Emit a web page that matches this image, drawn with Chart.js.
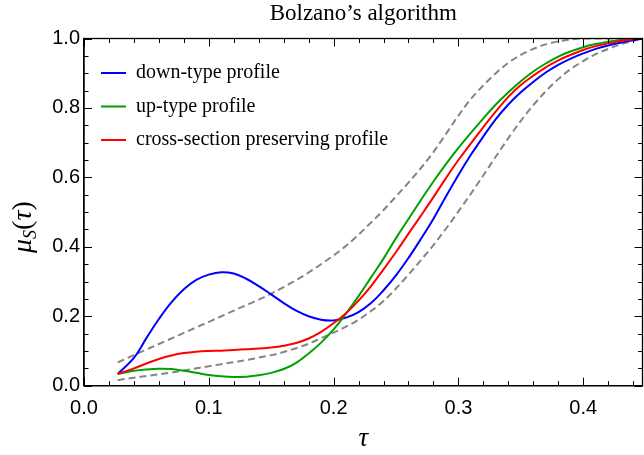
<!DOCTYPE html>
<html><head><meta charset="utf-8">
<script src="https://cdn.jsdelivr.net/npm/chart.js@4"></script>
<style>html,body{margin:0;padding:0;background:#fff}#wrap{width:644px;height:455px}</style>
</head><body><div id="wrap"><canvas id="c" width="644" height="455"></canvas></div>
<script>
const chartTitle = "Bolzano’s algorithm";
const seriesNames = ['down-type profile', 'up-type profile', 'cross-section preserving profile'];
const tau = [0.027,0.04,0.05,0.06,0.07,0.08,0.09,0.10,0.11,0.12,0.13,0.14,0.15,0.16,0.17,0.18,0.19,0.20,0.21,0.22,0.23,0.24,0.25,0.26,0.27,0.28,0.29,0.30,0.31,0.32,0.33,0.34,0.35,0.36,0.37,0.38,0.39,0.40,0.41,0.42,0.43,0.44,0.4475];
const downType = [0.034,0.080,0.137,0.192,0.240,0.278,0.305,0.320,0.327,0.323,0.308,0.287,0.263,0.238,0.216,0.200,0.190,0.188,0.196,0.212,0.238,0.275,0.318,0.368,0.423,0.481,0.545,0.607,0.665,0.718,0.768,0.810,0.845,0.875,0.902,0.924,0.942,0.957,0.970,0.980,0.988,0.995,1.000];
const upType = [0.034,0.043,0.047,0.049,0.048,0.043,0.037,0.031,0.027,0.025,0.026,0.030,0.037,0.048,0.066,0.093,0.124,0.162,0.208,0.258,0.312,0.366,0.425,0.480,0.535,0.588,0.638,0.685,0.728,0.770,0.810,0.845,0.877,0.905,0.928,0.948,0.963,0.975,0.984,0.991,0.996,0.999,1.000];
const crossSection = [0.034,0.050,0.064,0.077,0.087,0.094,0.098,0.100,0.101,0.103,0.105,0.107,0.110,0.115,0.123,0.136,0.155,0.180,0.209,0.245,0.287,0.335,0.385,0.438,0.490,0.543,0.598,0.650,0.698,0.745,0.790,0.832,0.866,0.893,0.917,0.937,0.953,0.967,0.978,0.986,0.993,0.998,1.000];
const bandUpper = [0.067,0.088,0.104,0.120,0.136,0.152,0.168,0.184,0.200,0.216,0.232,0.248,0.265,0.284,0.304,0.326,0.350,0.375,0.403,0.435,0.470,0.506,0.545,0.585,0.627,0.673,0.725,0.778,0.826,0.865,0.900,0.930,0.953,0.970,0.983,0.992,0.997,1.000,1.000,1.000,1.000,1.000,1.000];
const bandLower = [0.016,0.023,0.028,0.033,0.038,0.044,0.050,0.056,0.062,0.068,0.074,0.081,0.088,0.097,0.108,0.121,0.137,0.153,0.170,0.190,0.215,0.244,0.280,0.320,0.362,0.405,0.452,0.502,0.553,0.606,0.660,0.713,0.763,0.808,0.848,0.883,0.912,0.935,0.955,0.970,0.983,0.993,1.000];
const xTickLabels = ['0.0','0.1','0.2','0.3','0.4'];
const yTickLabels = ['0.0','0.2','0.4','0.6','0.8','1.0'];
const xRange = [0, 0.4475];
const yRange = [0, 1];
const xMinorStep = 0.02, yMinorStep = 0.05;

const pts = ys => tau.map((x, i) => ({x, y: ys[i]}));

const legendPlace = {
  id: 'legendPlace',
  beforeDraw(chart) {
    const a = chart.chartArea, lg = chart.legend;
    if (!lg) return;
    const w = lg.width, h = lg.height;
    lg.left = a.left + 3.5; lg.top = a.top + 11;
    lg.right = lg.left + w; lg.bottom = lg.top + h;
  }
};

const frameTicks = {
  id: 'frameTicks',
  afterDraw(chart) {
    const {ctx, chartArea: a, scales: {x, y}} = chart;
    ctx.save();
    ctx.strokeStyle = '#000';
    ctx.lineWidth = 1.3;
    ctx.strokeRect(a.left, a.top, a.right - a.left, a.bottom - a.top);
    ctx.lineWidth = 1;
    ctx.beginPath();
    for (let k = 0; k * xMinorStep <= xRange[1] + 1e-9; k++) {
      const v = k * xMinorStep;
      const px = Math.round(x.getPixelForValue(v)) + 0.5;
      const len = (k % 5 === 0) ? 8 : 4.5;
      ctx.moveTo(px, a.bottom); ctx.lineTo(px, a.bottom - len);
      ctx.moveTo(px, a.top); ctx.lineTo(px, a.top + len);
    }
    for (let k = 0; k * yMinorStep <= yRange[1] + 1e-9; k++) {
      const v = k * yMinorStep;
      const py = Math.round(y.getPixelForValue(v)) + 0.5;
      const len = (k % 4 === 0) ? 8 : 4.5;
      ctx.moveTo(a.left, py); ctx.lineTo(a.left + len, py);
      ctx.moveTo(a.right, py); ctx.lineTo(a.right - len, py);
    }
    ctx.stroke();
    // y axis title  mu_S(tau)
    const parts = [
      {t: 'μ', f: 'italic 28px "Liberation Serif"', dy: 0},
      {t: 'S', f: 'italic 18px "Liberation Serif"', dy: 5},
      {t: '(', f: '28px "Liberation Serif"', dy: 0},
      {t: 'τ', f: 'italic 28px "Liberation Serif"', dy: 0},
      {t: ')', f: '28px "Liberation Serif"', dy: 0}
    ];
    let total = 0;
    parts.forEach(p => { ctx.font = p.f; p.w = ctx.measureText(p.t).width; total += p.w; });
    ctx.translate(31, (a.top + a.bottom) / 2 + 15);
    ctx.rotate(-Math.PI / 2);
    ctx.fillStyle = '#000';
    ctx.textBaseline = 'alphabetic';
    let cx = -total / 2;
    parts.forEach(p => { ctx.font = p.f; ctx.fillText(p.t, cx, p.dy); cx += p.w; });
    ctx.restore();
  }
};

const solid = (label, data, color, order) => ({
  label, data: pts(data), borderColor: color, backgroundColor: color,
  borderWidth: 2, pointRadius: 0, tension: 0.4, order
});
const dashed = (label, data) => ({
  label, data: pts(data), borderColor: '#858585', backgroundColor: '#858585',
  borderWidth: 2, borderDash: [7, 4], pointRadius: 0, cubicInterpolationMode: 'monotone', order: 5
});

new Chart(document.getElementById('c'), {
  type: 'line',
  data: {
    datasets: [
      solid(seriesNames[0], downType, '#0000ff', 2),
      solid(seriesNames[1], upType, '#00a000', 1),
      solid(seriesNames[2], crossSection, '#ff0000', 0),
      dashed('upper bound', bandUpper),
      dashed('lower bound', bandLower)
    ]
  },
  options: {
    responsive: false,
    animation: false,
    devicePixelRatio: 1,
    layout: {padding: {left: 0, right: 1.5, top: 0, bottom: 0}},
    plugins: {
      tooltip: {enabled: false},
      title: {
        display: true, text: chartTitle, fullSize: false, color: '#000',
        font: {family: '"Liberation Serif"', size: 23, weight: 'normal', lineHeight: 1},
        padding: {top: 2, bottom: 13.5}
      },
      legend: {
        position: 'chartArea', align: 'start',
        labels: {
          color: '#000', boxWidth: 25, boxHeight: 2, padding: 13.5,
          font: {family: '"Liberation Serif"', size: 20},
          filter: item => item.datasetIndex < 3,
          sort: (a, b) => a.datasetIndex - b.datasetIndex,
          generateLabels(chart) {
            const items = Chart.defaults.plugins.legend.labels.generateLabels(chart);
            items.forEach(i => { i.fillStyle = i.strokeStyle; i.lineWidth = 0; i.lineDash = []; });
            return items;
          }
        }
      }
    },
    scales: {
      x: {
        type: 'linear', min: xRange[0], max: xRange[1],
        afterBuildTicks: s => { s.ticks = xTickLabels.map(t => ({value: parseFloat(t)})); },
        afterFit: s => { s.height = 69.3; },
        grid: {display: false, drawTicks: false},
        border: {display: true, color: '#000', width: 1.3},
        ticks: {color: '#000', padding: 11, maxRotation: 0, autoSkip: false,
          font: {family: '"Liberation Sans"', size: 20},
          callback: v => v.toFixed(1)},
        title: {display: true, text: 'τ', color: '#000',
          font: {family: '"Liberation Serif"', size: 27, style: 'italic'}, padding: {top: 4, bottom: 0}}
      },
      y: {
        type: 'linear', min: yRange[0], max: yRange[1],
        afterBuildTicks: s => { s.ticks = yTickLabels.map(t => ({value: parseFloat(t)})); },
        afterFit: s => { s.width = 84; },
        grid: {display: false, drawTicks: false},
        border: {display: true, color: '#000', width: 1.3},
        ticks: {color: '#000', padding: 4, font: {family: '"Liberation Sans"', size: 20},
          callback: v => v.toFixed(1)}
      }
    }
  },
  plugins: [legendPlace, frameTicks]
});
</script>
</body></html>
